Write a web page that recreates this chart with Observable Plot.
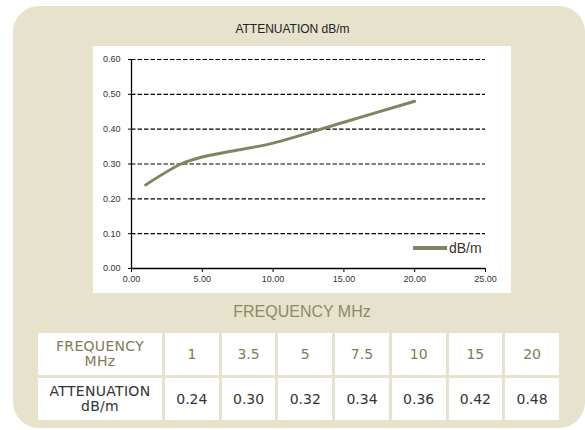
<!DOCTYPE html>
<html><head><meta charset="utf-8">
<script src="https://cdn.jsdelivr.net/npm/d3@7"></script>
<script src="https://cdn.jsdelivr.net/npm/@observablehq/plot@0.6"></script>
<style>
html,body{margin:0;padding:0;background:#fff;width:585px;height:430px;overflow:hidden;font-family:"Liberation Sans",Arial,sans-serif;}
#panel{position:absolute;left:13px;top:6px;width:572px;height:422px;background:#e6e2cb;border-radius:26px;}
#title{position:absolute;left:0;width:585px;top:22px;text-align:center;font-size:12px;color:#222;}
#plotbox{position:absolute;left:93px;top:46px;width:418px;height:247px;background:#fff;}
#legend{position:absolute;left:413px;top:240px;font-size:14px;color:#333;font-family:"Liberation Sans Narrow","Liberation Sans",sans-serif;display:flex;align-items:center;}
#legend span.sw{display:inline-block;width:34px;height:4px;background:#838262;margin-right:2px;}
#xlabel{position:absolute;left:93px;width:418px;top:303px;text-align:center;font-size:16px;color:#8c8a66;}
table{position:absolute;left:35px;top:330px;width:527px;table-layout:fixed;border-collapse:separate;border-spacing:3px;font-family:"DejaVu Sans","Liberation Sans",sans-serif;}
td{background:#fff;text-align:center;font-size:14px;padding:0;height:42px;color:#333;line-height:15px;}
td.h{font-size:14px;letter-spacing:0.3px;line-height:15px;}
tr.r1 td{color:#7f7b55;}
</style></head>
<body>
<div id="panel"></div>
<div id="title">ATTENUATION dB/m</div>
<div id="plotbox"></div>
<div id="legend"><span class="sw"></span>dB/m</div>
<div id="xlabel">FREQUENCY MHz</div>
<table id="tbl"><colgroup><col style="width:124px"><col span="7"></colgroup></table>
<script>
const frequency = [1, 3.5, 5, 7.5, 10, 15, 20];
const attenuation = [0.24, 0.30, 0.32, 0.34, 0.36, 0.42, 0.48];
const freqLabels = ["1", "3.5", "5", "7.5", "10", "15", "20"];
const attenLabels = ["0.24", "0.30", "0.32", "0.34", "0.36", "0.42", "0.48"];
const xTicks = [0, 5, 10, 15, 20, 25];
const yTicks = [0, 0.1, 0.2, 0.3, 0.4, 0.5, 0.6];

const data = frequency.map((f, i) => ({f, a: attenuation[i]}));
const fmt = d3.format(".2f");
const chart = Plot.plot({
  width: 418, height: 247,
  marginLeft: 38, marginRight: 26, marginTop: 13, marginBottom: 25,
  style: {fontFamily: '"Liberation Sans Narrow","Liberation Sans",Arial,sans-serif', fontSize: "9px", color: "#333", background: "transparent"},
  x: {domain: [0, 25], label: null},
  y: {domain: [0, 0.6], label: null},
  marks: [
    Plot.ruleY(yTicks.filter(d => d > 0), {stroke: "#000", strokeWidth: 1.2, strokeDasharray: "4.5,2"}),
    Plot.ruleX([0], {stroke: "#000", strokeWidth: 1.3}),
    Plot.ruleY([0], {stroke: "#000", strokeWidth: 1.3}),
    Plot.axisX({ticks: xTicks, tickFormat: fmt, tickSize: 4, tickPadding: 3, stroke: "#000", fontSize: 9, label: null}),
    Plot.axisY({ticks: yTicks, tickFormat: fmt, tickSize: 3, tickPadding: 8, stroke: "#000", fontSize: 9, label: null}),
    Plot.line(data, {x: "f", y: "a", stroke: "#838262", strokeWidth: 3, curve: "catmull-rom"})
  ]
});
document.getElementById("plotbox").appendChild(chart);

const tbl = document.getElementById("tbl");
const r1 = document.createElement("tr"); r1.className = "r1";
r1.innerHTML = '<td class="h">FREQUENCY<br>MHz</td>' + freqLabels.map(v => `<td>${v}</td>`).join("");
const r2 = document.createElement("tr");
r2.innerHTML = '<td class="h">ATTENUATION<br>dB/m</td>' + attenLabels.map(v => `<td>${v}</td>`).join("");
tbl.appendChild(r1); tbl.appendChild(r2);
</script>
</body></html>
